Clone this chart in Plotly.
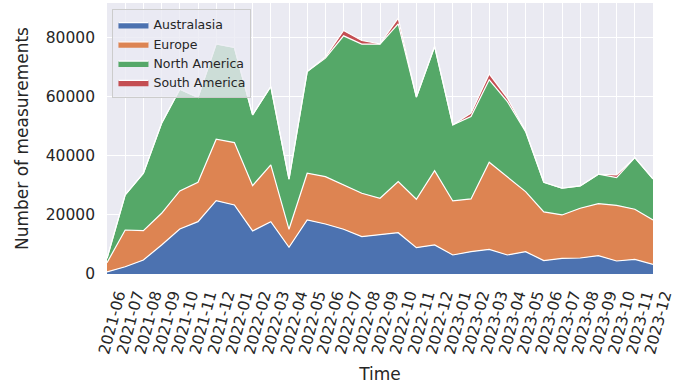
import plotly.graph_objects as go

months = [
    "2021-06", "2021-07", "2021-08", "2021-09", "2021-10", "2021-11", "2021-12",
    "2022-01", "2022-02", "2022-03", "2022-04", "2022-05", "2022-06", "2022-07",
    "2022-08", "2022-09", "2022-10", "2022-11", "2022-12", "2023-01", "2023-02",
    "2023-03", "2023-04", "2023-05", "2023-06", "2023-07", "2023-08", "2023-09",
    "2023-10", "2023-11", "2023-12",
]

australasia = [700, 2470, 4750, 9830, 15250, 17730, 24850, 23390, 14580, 17730,
               9050, 18300, 16950, 15150, 12650, 13450, 14000, 8920, 9830, 6440,
               7570, 8360, 6440, 7570, 4520, 5310, 5420, 6210, 4400, 4970, 3280]
europe = [3130, 12430, 9930, 10740, 12890, 13350, 20810, 21130, 15360, 19220,
          6090, 15830, 16050, 15020, 14700, 12200, 17300, 16390, 25200, 18310,
          17860, 29490, 26560, 20330, 16500, 14690, 16850, 17620, 18870, 16960, 15020]
north_america = [1470, 11880, 19450, 30510, 34460, 28690, 32310, 32200, 23960, 26550,
                 16960, 34450, 40120, 50510, 50510, 52210, 53450, 34590, 42040, 25760,
                 27900, 27920, 25400, 20340, 10060, 9050, 7560, 9960, 9380, 17490, 13900]
south_america = [0, 0, 0, 0, 0, 0, 0, 0, 0, 0,
                 0, 0, 400, 1800, 1230, 100, 1930, 0, 0, 0,
                 1140, 2000, 1160, 300, 0, 0, 0, 0, 900, 0, 0]

series = [
    ("Australasia", australasia, "#4C72B0"),
    ("Europe", europe, "#DD8452"),
    ("North America", north_america, "#55A868"),
    ("South America", south_america, "#C44E52"),
]

fig = go.Figure()
for name, values, color in series:
    fig.add_trace(go.Scatter(
        x=months, y=values, name=name, mode="lines",
        stackgroup="regions", fillcolor=color,
        line=dict(color="white", width=1.2),
    ))

font_family = "DejaVu Sans"
fig.update_layout(
    width=683, height=385,
    margin=dict(l=107, r=30, t=3, b=111),
    paper_bgcolor="white",
    plot_bgcolor="#EAEAF2",
    font=dict(family=font_family, color="#262626"),
    showlegend=True,
    legend=dict(
        x=0.01, y=0.978, xanchor="left", yanchor="top",
        bgcolor="rgba(234,234,242,0.8)", bordercolor="#CCCCCC", borderwidth=1,
        font=dict(size=12.5, family=font_family, color="#262626"),
        tracegroupgap=0, traceorder="normal",
    ),
    xaxis=dict(
        type="category", automargin=False,
        tickmode="array", tickvals=months, ticktext=months,
        title=dict(text="Time", font=dict(size=17), standoff=12),
        tickangle=-75, tickfont=dict(size=15.5),
        ticklabelshift=11, ticklabelstandoff=8,
        showgrid=True, gridcolor="white", gridwidth=1.3,
        zeroline=False, showline=False, ticks="",
        range=[0, len(months) - 1],
    ),
    yaxis=dict(
        automargin=False,
        title=dict(text="Number of measurements", font=dict(size=17), standoff=12),
        tickfont=dict(size=15.5), ticklabelstandoff=11,
        tickvals=[0, 20000, 40000, 60000, 80000],
        ticktext=["0", "20000", "40000", "60000", "80000"],
        showgrid=True, gridcolor="white", gridwidth=1.3,
        zeroline=False, showline=False, ticks="",
        range=[0, 91800],
    ),
)

fig.write_html("out.html")
